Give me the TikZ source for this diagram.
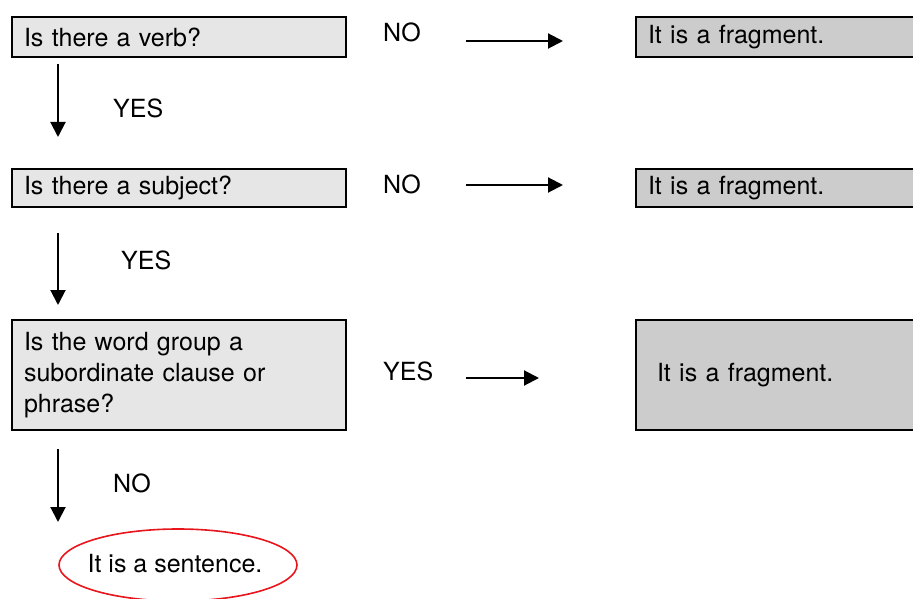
\documentclass[tikz,border=0pt]{standalone}
\usepackage{fontspec}
\setmainfont{TeX Gyre Heros}
\usetikzlibrary{shapes.geometric,arrows.meta}
\definecolor{qgray}{HTML}{E6E6E6}
\definecolor{fgray}{HTML}{CCCCCC}
\definecolor{ovalred}{HTML}{E8161C}
\begin{document}
\begin{tikzpicture}[x=1pt,y=-1pt,
  font=\fontsize{25}{31}\selectfont,
  qbox/.style={draw, line width=2.2pt, fill=qgray, anchor=north west, outer sep=0pt,
    inner xsep=12pt, inner ysep=0pt, text width=310pt, align=left},
  fbox/.style={draw, line width=2.2pt, fill=fgray, anchor=north west, outer sep=0pt,
    inner xsep=12pt, inner ysep=0pt, text width=320pt, align=left},
  lbl/.style={anchor=west, inner sep=0pt},
  arr/.style={line width=2pt, -{Triangle[length=15pt,width=15pt]}}]
\useasboundingbox (0,0) rectangle (913,599);
\clip (0,0) rectangle (913,599);

% question boxes
\node[qbox, minimum height=40pt] (q1) at (12,17) {Is there a verb?};
\node[qbox, minimum height=38pt] (q2) at (12,169) {Is there a subject?};
\node[qbox, minimum height=110pt] (q3) at (12,320) {Is the word group a\\subordinate clause or\\phrase?};

% fragment boxes
\node[fbox, minimum height=40pt] (f1) at (636,17) {It is a fragment.};
\node[fbox, minimum height=38pt] (f2) at (636,169) {It is a fragment.};
\node[fbox, minimum height=110pt, inner xsep=21pt, text width=304pt] (f3) at (636,320) {It is a fragment.};

% sentence oval
\node[inner sep=0pt] (s) at (175,564) {It is a sentence.};
\draw[ovalred, line width=1.6pt] (178,565) ellipse [x radius=119pt, y radius=36pt];

% labels
\node[lbl] (y1) at (113,108) {YES};
\node[lbl] (y2) at (121,260) {YES};
\node[lbl] (n3) at (113,483) {NO};
\node[lbl] (n1) at (383,32) {NO};
\node[lbl] (n2) at (383,184) {NO};
\node[lbl] (y3) at (383,371) {YES};

% connector end points
\coordinate (d1a) at (58,64);  \coordinate (d1b) at (58,137);
\coordinate (d2a) at (58,233); \coordinate (d2b) at (58,305);
\coordinate (d3a) at (58,449); \coordinate (d3b) at (58,522);
\coordinate (r1a) at (466,41);  \coordinate (r1b) at (563,41);
\coordinate (r2a) at (466,185); \coordinate (r2b) at (563,185);
\coordinate (r3a) at (466,378); \coordinate (r3b) at (539,378);

\draw[arr] (d1a) -- (d1b);
\draw[arr] (d2a) -- (d2b);
\draw[arr] (d3a) -- (d3b);
\draw[arr] (r1a) -- (r1b);
\draw[arr] (r2a) -- (r2b);
\draw[arr] (r3a) -- (r3b);
\end{tikzpicture}
\end{document}
